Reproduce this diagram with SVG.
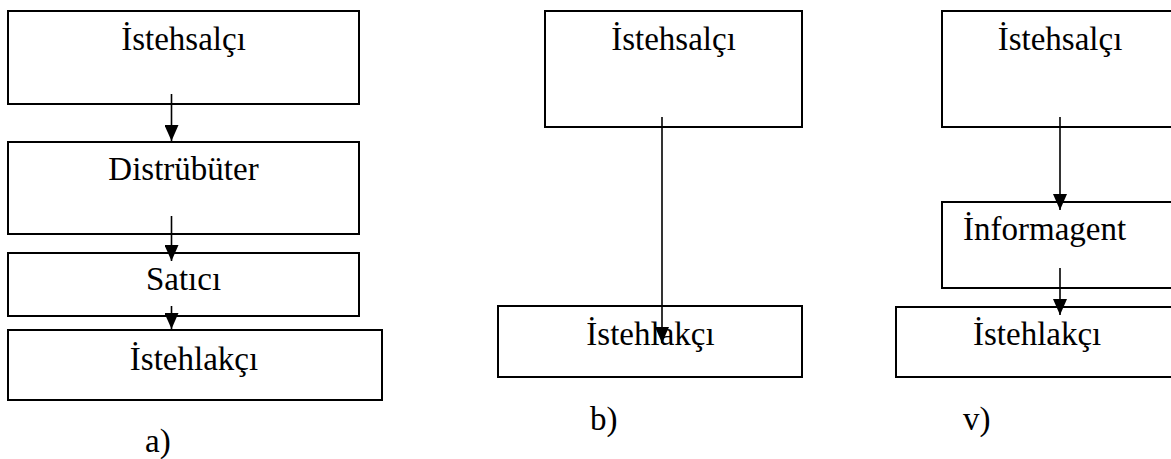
<svg xmlns="http://www.w3.org/2000/svg" width="1171" height="459" viewBox="0 0 1171 459">
  <style>
    .box { fill: none; stroke: #000; stroke-width: 2; }
    .lbl { font-family: "Liberation Serif", "Times New Roman", serif; font-size: 33px; fill: #000; }
    .mid { text-anchor: middle; }
    .edge { stroke: #000; stroke-width: 1.6; fill: none; marker-end: url(#head); }
  </style>
  <defs>
    <!-- filled triangular arrowhead, tip at the end of the line -->
    <marker id="head" viewBox="0 0 16 14" refX="16" refY="7" markerWidth="16" markerHeight="14" markerUnits="userSpaceOnUse" orient="auto">
      <path d="M0,0 L16,7 L0,14 Z" fill="#000"/>
    </marker>
  </defs>
  <rect width="1171" height="459" fill="#fff"/>

  <!-- a) chain -->
  <g id="a-producer">
    <rect class="box" x="8" y="11" width="351" height="93"/>
    <text class="lbl mid" font-family="Liberation Serif, serif" x="183.5" y="50">İstehsalçı</text>
  </g>
  <g id="a-distributor">
    <rect class="box" x="8" y="142" width="351" height="92"/>
    <text class="lbl mid" font-family="Liberation Serif, serif" x="183.5" y="180">Distrübüter</text>
  </g>
  <g id="a-seller">
    <rect class="box" x="8" y="253" width="351" height="63"/>
    <text class="lbl mid" font-family="Liberation Serif, serif" x="183.5" y="290">Satıcı</text>
  </g>
  <g id="a-consumer">
    <rect class="box" x="8" y="330" width="374" height="70"/>
    <text class="lbl mid" font-family="Liberation Serif, serif" x="194" y="370">İstehlakçı</text>
  </g>
  <text id="a-caption" class="lbl" font-family="Liberation Serif, serif" x="145" y="452">a)</text>

  <!-- b) direct -->
  <g id="b-producer">
    <rect class="box" x="545" y="11" width="257" height="116"/>
    <text class="lbl mid" font-family="Liberation Serif, serif" x="673.5" y="50">İstehsalçı</text>
  </g>
  <g id="b-consumer">
    <rect class="box" x="498" y="306" width="304" height="71"/>
    <text class="lbl mid" font-family="Liberation Serif, serif" x="650.5" y="345">İstehlakçı</text>
  </g>
  <text id="b-caption" class="lbl" font-family="Liberation Serif, serif" x="590" y="430">b)</text>

  <!-- v) via information agent -->
  <g id="v-producer">
    <rect class="box" x="942" y="11" width="240" height="116"/>
    <text class="lbl mid" font-family="Liberation Serif, serif" x="1060" y="50">İstehsalçı</text>
  </g>
  <g id="v-agent">
    <rect class="box" x="942" y="202" width="240" height="86"/>
    <text class="lbl" font-family="Liberation Serif, serif" x="963" y="240">İnformagent</text>
  </g>
  <g id="v-consumer">
    <rect class="box" x="896" y="307" width="286" height="70"/>
    <text class="lbl" font-family="Liberation Serif, serif" x="973" y="345">İstehlakçı</text>
  </g>
  <text id="v-caption" class="lbl" font-family="Liberation Serif, serif" x="963" y="430">v)</text>

  <g id="connectors">
    <line class="edge" x1="171.5" y1="94" x2="171.5" y2="141"/>
    <line class="edge" x1="171.5" y1="216" x2="171.5" y2="261"/>
    <line class="edge" x1="171.5" y1="306" x2="171.5" y2="329"/>
    <line class="edge" x1="662" y1="117" x2="662" y2="343"/>
    <line class="edge" x1="1060" y1="117" x2="1060" y2="210"/>
    <line class="edge" x1="1060" y1="268" x2="1060" y2="315"/>
  </g>
</svg>
